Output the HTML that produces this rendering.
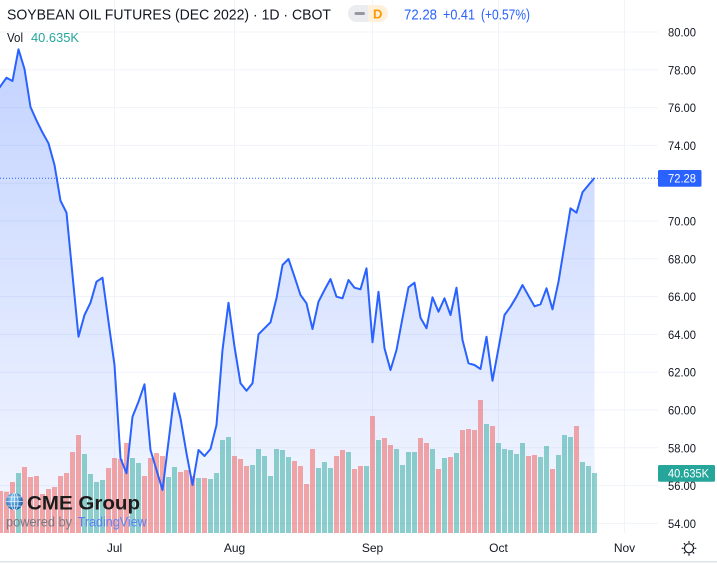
<!DOCTYPE html>
<html><head><meta charset="utf-8"><style>
html,body{margin:0;padding:0;background:#fff;}
svg{display:block;font-family:"Liberation Sans",Arial,sans-serif;}
</style></head><body>
<svg width="717" height="564" viewBox="0 0 717 564" xmlns="http://www.w3.org/2000/svg">
<defs>
<linearGradient id="ag" gradientUnits="userSpaceOnUse" x1="0" y1="49" x2="0" y2="533">
<stop offset="0" stop-color="#2962ff" stop-opacity="0.28"/>
<stop offset="1" stop-color="#2962ff" stop-opacity="0.05"/>
</linearGradient>
<radialGradient id="gl" cx="0.4" cy="0.35" r="0.7">
<stop offset="0" stop-color="#8fd0fa"/>
<stop offset="1" stop-color="#0b5ba8"/>
</radialGradient>
<clipPath id="pane"><rect x="0" y="0" width="658" height="533"/></clipPath>
</defs>
<rect width="717" height="564" fill="#fff"/>
<g stroke="#f0f3fa" stroke-width="1">
<line x1="0" x2="658" y1="32" y2="32"/>
<line x1="0" x2="658" y1="69.8" y2="69.8"/>
<line x1="0" x2="658" y1="107.6" y2="107.6"/>
<line x1="0" x2="658" y1="145.4" y2="145.4"/>
<line x1="0" x2="658" y1="183.2" y2="183.2"/>
<line x1="0" x2="658" y1="221" y2="221"/>
<line x1="0" x2="658" y1="258.8" y2="258.8"/>
<line x1="0" x2="658" y1="296.6" y2="296.6"/>
<line x1="0" x2="658" y1="334.4" y2="334.4"/>
<line x1="0" x2="658" y1="372.2" y2="372.2"/>
<line x1="0" x2="658" y1="410" y2="410"/>
<line x1="0" x2="658" y1="447.8" y2="447.8"/>
<line x1="0" x2="658" y1="485.6" y2="485.6"/>
<line x1="0" x2="658" y1="523.4" y2="523.4"/>
<line x1="114.5" x2="114.5" y1="0" y2="533"/>
<line x1="234.5" x2="234.5" y1="0" y2="533"/>
<line x1="372.5" x2="372.5" y1="0" y2="533"/>
<line x1="498.5" x2="498.5" y1="0" y2="533"/>
<line x1="624.5" x2="624.5" y1="0" y2="533"/>
</g>
<g clip-path="url(#pane)">
<path fill="url(#ag)" d="M-6,95 L0.5,86.2 L6.5,77.7 L12.5,81 L18.5,49.3 L24.5,69 L30.5,107 L36.5,120.5 L42.5,132.5 L48.5,143.3 L54.5,165 L60.5,200.7 L66.5,212.7 L72.5,275 L78.5,336.7 L84.5,315 L90.5,302.7 L96.5,281.7 L102.5,277.7 L108.5,321.7 L114.5,365 L120.5,458.3 L126.5,473.3 L132.5,416.7 L138.5,401.7 L144.5,384.3 L150.5,450 L156.5,470 L162.5,490 L168.5,441.7 L174.5,393.3 L180.5,418.3 L186.5,453.3 L192.5,485 L198.5,450 L204.5,456 L210.5,449 L216.5,425 L222.5,350 L228.5,302.7 L234.5,346.7 L240.5,383.3 L246.5,390.7 L252.5,383.3 L258.5,334.3 L264.5,328.3 L270.5,322.3 L276.5,298.3 L282.5,265 L288.5,259 L294.5,276.7 L300.5,295 L306.5,303.3 L312.5,329 L318.5,301.7 L324.5,290 L330.5,279 L336.5,296.7 L342.5,298.3 L348.5,280 L354.5,287.7 L360.5,289.3 L366.5,268.3 L372.5,342.3 L378.5,291.7 L384.5,348.3 L390.5,370 L396.5,350 L402.5,318 L408.5,287.3 L414.5,282.7 L420.5,317.7 L426.5,328.3 L432.5,297.3 L438.5,311.7 L444.5,298.3 L450.5,315 L456.5,287.7 L462.5,340 L468.5,363.3 L474.5,365 L480.5,369 L486.5,336.7 L492.5,380.7 L498.5,348.3 L504.5,315 L510.5,306.7 L516.5,296.7 L522.5,285 L528.5,295.7 L534.5,306.3 L540.5,304.3 L546.5,288.3 L552.5,309.3 L558.5,281.7 L564.5,245 L570.5,208.3 L576.5,212.7 L582.5,192.3 L588.5,185 L594.5,177.9 L594.5,533 L-6,533 Z"/>
<g fill="rgba(239,83,80,0.5)">
<rect x="-2" y="491" width="5" height="42"/>
<rect x="4" y="491.7" width="5" height="41.3"/>
<rect x="10" y="482" width="5" height="51"/>
<rect x="22" y="467" width="5" height="66"/>
<rect x="28" y="477" width="5" height="56"/>
<rect x="34" y="476" width="5" height="57"/>
<rect x="40" y="494" width="5" height="39"/>
<rect x="46" y="489" width="5" height="44"/>
<rect x="52" y="487" width="5" height="46"/>
<rect x="58" y="476" width="5" height="57"/>
<rect x="64" y="473" width="5" height="60"/>
<rect x="70" y="452" width="5" height="81"/>
<rect x="76" y="435" width="5" height="98"/>
<rect x="106" y="468" width="5" height="65"/>
<rect x="112" y="458" width="5" height="75"/>
<rect x="118" y="459" width="5" height="74"/>
<rect x="124" y="443" width="5" height="90"/>
<rect x="142" y="476" width="5" height="57"/>
<rect x="148" y="458" width="5" height="75"/>
<rect x="154" y="453" width="5" height="80"/>
<rect x="160" y="456" width="5" height="77"/>
<rect x="178" y="472" width="5" height="61"/>
<rect x="184" y="470" width="5" height="63"/>
<rect x="190" y="476" width="5" height="57"/>
<rect x="202" y="478" width="5" height="55"/>
<rect x="232" y="456" width="5" height="77"/>
<rect x="238" y="459" width="5" height="74"/>
<rect x="244" y="466" width="5" height="67"/>
<rect x="292" y="461" width="5" height="72"/>
<rect x="298" y="466" width="5" height="67"/>
<rect x="304" y="484" width="5" height="49"/>
<rect x="310" y="449" width="5" height="84"/>
<rect x="334" y="456" width="5" height="77"/>
<rect x="340" y="450" width="5" height="83"/>
<rect x="352" y="469" width="5" height="64"/>
<rect x="358" y="466" width="5" height="67"/>
<rect x="370" y="416" width="5" height="117"/>
<rect x="382" y="438" width="5" height="95"/>
<rect x="388" y="445" width="5" height="88"/>
<rect x="418" y="438" width="5" height="95"/>
<rect x="424" y="443" width="5" height="90"/>
<rect x="436" y="469" width="5" height="64"/>
<rect x="448" y="457" width="5" height="76"/>
<rect x="460" y="430" width="5" height="103"/>
<rect x="466" y="429" width="5" height="104"/>
<rect x="472" y="430" width="5" height="103"/>
<rect x="478" y="400" width="5" height="133"/>
<rect x="490" y="426" width="5" height="107"/>
<rect x="526" y="456" width="5" height="77"/>
<rect x="532" y="455" width="5" height="78"/>
<rect x="550" y="469" width="5" height="64"/>
<rect x="574" y="426" width="5" height="107"/>
</g>
<g fill="rgba(38,166,154,0.5)">
<rect x="16" y="473" width="5" height="60"/>
<rect x="82" y="454" width="5" height="79"/>
<rect x="88" y="474" width="5" height="59"/>
<rect x="94" y="482" width="5" height="51"/>
<rect x="100" y="480" width="5" height="53"/>
<rect x="130" y="458" width="5" height="75"/>
<rect x="136" y="463" width="5" height="70"/>
<rect x="166" y="477" width="5" height="56"/>
<rect x="172" y="467" width="5" height="66"/>
<rect x="196" y="478" width="5" height="55"/>
<rect x="208" y="479" width="5" height="54"/>
<rect x="214" y="473" width="5" height="60"/>
<rect x="220" y="440" width="5" height="93"/>
<rect x="226" y="437" width="5" height="96"/>
<rect x="250" y="465" width="5" height="68"/>
<rect x="256" y="449" width="5" height="84"/>
<rect x="262" y="456" width="5" height="77"/>
<rect x="268" y="476" width="5" height="57"/>
<rect x="274" y="449" width="5" height="84"/>
<rect x="280" y="450" width="5" height="83"/>
<rect x="286" y="457" width="5" height="76"/>
<rect x="316" y="468" width="5" height="65"/>
<rect x="322" y="462" width="5" height="71"/>
<rect x="328" y="468" width="5" height="65"/>
<rect x="346" y="452" width="5" height="81"/>
<rect x="364" y="466" width="5" height="67"/>
<rect x="376" y="440" width="5" height="93"/>
<rect x="394" y="449" width="5" height="84"/>
<rect x="400" y="465" width="5" height="68"/>
<rect x="406" y="452" width="5" height="81"/>
<rect x="412" y="452" width="5" height="81"/>
<rect x="430" y="449" width="5" height="84"/>
<rect x="442" y="458" width="5" height="75"/>
<rect x="454" y="453" width="5" height="80"/>
<rect x="484" y="424" width="5" height="109"/>
<rect x="496" y="443" width="5" height="90"/>
<rect x="502" y="449" width="5" height="84"/>
<rect x="508" y="450" width="5" height="83"/>
<rect x="514" y="454" width="5" height="79"/>
<rect x="520" y="443" width="5" height="90"/>
<rect x="538" y="457" width="5" height="76"/>
<rect x="544" y="446" width="5" height="87"/>
<rect x="556" y="455" width="5" height="78"/>
<rect x="562" y="435" width="5" height="98"/>
<rect x="568" y="437" width="5" height="96"/>
<rect x="580" y="462" width="5" height="71"/>
<rect x="586" y="466" width="5" height="67"/>
<rect x="592" y="473" width="5" height="60"/>
</g>
<line x1="0" x2="658" y1="178.3" y2="178.3" stroke="#2962ff" stroke-width="1" stroke-dasharray="1 2"/>
<path fill="none" stroke="#2962ff" stroke-width="2" stroke-linejoin="round" d="M-6,95 L0.5,86.2 L6.5,77.7 L12.5,81 L18.5,49.3 L24.5,69 L30.5,107 L36.5,120.5 L42.5,132.5 L48.5,143.3 L54.5,165 L60.5,200.7 L66.5,212.7 L72.5,275 L78.5,336.7 L84.5,315 L90.5,302.7 L96.5,281.7 L102.5,277.7 L108.5,321.7 L114.5,365 L120.5,458.3 L126.5,473.3 L132.5,416.7 L138.5,401.7 L144.5,384.3 L150.5,450 L156.5,470 L162.5,490 L168.5,441.7 L174.5,393.3 L180.5,418.3 L186.5,453.3 L192.5,485 L198.5,450 L204.5,456 L210.5,449 L216.5,425 L222.5,350 L228.5,302.7 L234.5,346.7 L240.5,383.3 L246.5,390.7 L252.5,383.3 L258.5,334.3 L264.5,328.3 L270.5,322.3 L276.5,298.3 L282.5,265 L288.5,259 L294.5,276.7 L300.5,295 L306.5,303.3 L312.5,329 L318.5,301.7 L324.5,290 L330.5,279 L336.5,296.7 L342.5,298.3 L348.5,280 L354.5,287.7 L360.5,289.3 L366.5,268.3 L372.5,342.3 L378.5,291.7 L384.5,348.3 L390.5,370 L396.5,350 L402.5,318 L408.5,287.3 L414.5,282.7 L420.5,317.7 L426.5,328.3 L432.5,297.3 L438.5,311.7 L444.5,298.3 L450.5,315 L456.5,287.7 L462.5,340 L468.5,363.3 L474.5,365 L480.5,369 L486.5,336.7 L492.5,380.7 L498.5,348.3 L504.5,315 L510.5,306.7 L516.5,296.7 L522.5,285 L528.5,295.7 L534.5,306.3 L540.5,304.3 L546.5,288.3 L552.5,309.3 L558.5,281.7 L564.5,245 L570.5,208.3 L576.5,212.7 L582.5,192.3 L588.5,185 L594.5,177.9"/>
</g>
<text x="7" y="19.5" font-size="15" fill="#131722" textLength="324" lengthAdjust="spacingAndGlyphs">SOYBEAN OIL FUTURES (DEC 2022) · 1D · CBOT</text>
<rect x="348" y="5" width="40" height="17" rx="8.5" fill="#fff0dc"/>
<path d="M368,5 H356.5 A8.5,8.5 0 0 0 356.5,22 H368 Z" fill="#ebecef"/>
<line x1="356" y1="13.5" x2="363.5" y2="13.5" stroke="#9598a1" stroke-width="3" stroke-linecap="round"/>
<text x="373" y="18.5" font-size="13" font-weight="bold" fill="#ff9800">D</text>
<text x="404" y="19.5" font-size="15" fill="#2962ff" textLength="33" lengthAdjust="spacingAndGlyphs">72.28</text>
<text x="443" y="19.5" font-size="15" fill="#2962ff" textLength="32" lengthAdjust="spacingAndGlyphs">+0.41</text>
<text x="481" y="19.5" font-size="15" fill="#2962ff" textLength="49" lengthAdjust="spacingAndGlyphs">(+0.57%)</text>
<text x="7" y="42" font-size="13" fill="#131722" textLength="16" lengthAdjust="spacingAndGlyphs">Vol</text>
<text x="31" y="42" font-size="13" fill="#26a69a" textLength="48" lengthAdjust="spacingAndGlyphs">40.635K</text>
<circle cx="14.5" cy="501.5" r="8.5" fill="url(#gl)"/>
<g stroke="#ffffff" stroke-width="0.8" fill="none" opacity="0.85">
<ellipse cx="14.5" cy="501.5" rx="3.5" ry="8.5"/>
<line x1="14.5" y1="493" x2="14.5" y2="510"/>
<line x1="6" y1="501.5" x2="23" y2="501.5"/>
<line x1="7.5" y1="497" x2="21.5" y2="497"/>
<line x1="7.5" y1="506" x2="21.5" y2="506"/>
</g>
<text x="27" y="509.5" font-size="19" font-weight="bold" fill="#1c1c1c" textLength="113" lengthAdjust="spacingAndGlyphs">CME Group</text>
<text x="6" y="526.5" font-size="13.5" fill="#787b86" textLength="66" lengthAdjust="spacingAndGlyphs">powered by</text>
<text x="77.7" y="526.5" font-size="13.5" fill="#5b82f5" textLength="69" lengthAdjust="spacingAndGlyphs">TradingView</text>
<g font-size="12" fill="#131722">
<text x="668" y="36.5" textLength="28" lengthAdjust="spacingAndGlyphs">80.00</text>
<text x="668" y="74.3" textLength="28" lengthAdjust="spacingAndGlyphs">78.00</text>
<text x="668" y="112.1" textLength="28" lengthAdjust="spacingAndGlyphs">76.00</text>
<text x="668" y="149.9" textLength="28" lengthAdjust="spacingAndGlyphs">74.00</text>
<text x="668" y="225.5" textLength="28" lengthAdjust="spacingAndGlyphs">70.00</text>
<text x="668" y="263.3" textLength="28" lengthAdjust="spacingAndGlyphs">68.00</text>
<text x="668" y="301.1" textLength="28" lengthAdjust="spacingAndGlyphs">66.00</text>
<text x="668" y="338.9" textLength="28" lengthAdjust="spacingAndGlyphs">64.00</text>
<text x="668" y="376.7" textLength="28" lengthAdjust="spacingAndGlyphs">62.00</text>
<text x="668" y="414.5" textLength="28" lengthAdjust="spacingAndGlyphs">60.00</text>
<text x="668" y="452.3" textLength="28" lengthAdjust="spacingAndGlyphs">58.00</text>
<text x="668" y="490.1" textLength="28" lengthAdjust="spacingAndGlyphs">56.00</text>
<text x="668" y="527.9" textLength="28" lengthAdjust="spacingAndGlyphs">54.00</text>
</g>
<rect x="658" y="170" width="43.5" height="16.7" rx="1.5" fill="#2962ff"/>
<text x="668" y="182.5" font-size="12" fill="#ffffff" textLength="28" lengthAdjust="spacingAndGlyphs">72.28</text>
<rect x="658" y="465" width="57" height="16.7" rx="1.5" fill="#26a69a"/>
<text x="668" y="477.5" font-size="12" fill="#ffffff" textLength="41" lengthAdjust="spacingAndGlyphs">40.635K</text>
<g font-size="12" fill="#131722" text-anchor="middle">
<text x="114.5" y="552">Jul</text>
<text x="234.5" y="552">Aug</text>
<text x="372.5" y="552">Sep</text>
<text x="498.5" y="552">Oct</text>
<text x="624.5" y="552">Nov</text>
</g>
<g stroke="#131722" stroke-width="1.2" fill="none" stroke-linecap="round">
<circle cx="689" cy="548.3" r="4.5"/>
<line x1="689" y1="541.5" x2="689" y2="542.5"/>
<line x1="689" y1="554.1" x2="689" y2="555.1"/>
<line x1="682.2" y1="548.3" x2="683.2" y2="548.3"/>
<line x1="694.8" y1="548.3" x2="695.8" y2="548.3"/>
<line x1="684.2" y1="543.5" x2="684.9" y2="544.2"/>
<line x1="693.1" y1="552.4" x2="693.8" y2="553.1"/>
<line x1="693.8" y1="543.5" x2="693.1" y2="544.2"/>
<line x1="684.9" y1="552.4" x2="684.2" y2="553.1"/>
</g>
<line x1="0" x2="717" y1="561.8" y2="561.8" stroke="#e0e3eb" stroke-width="1.5"/>
</svg>
</body></html>
